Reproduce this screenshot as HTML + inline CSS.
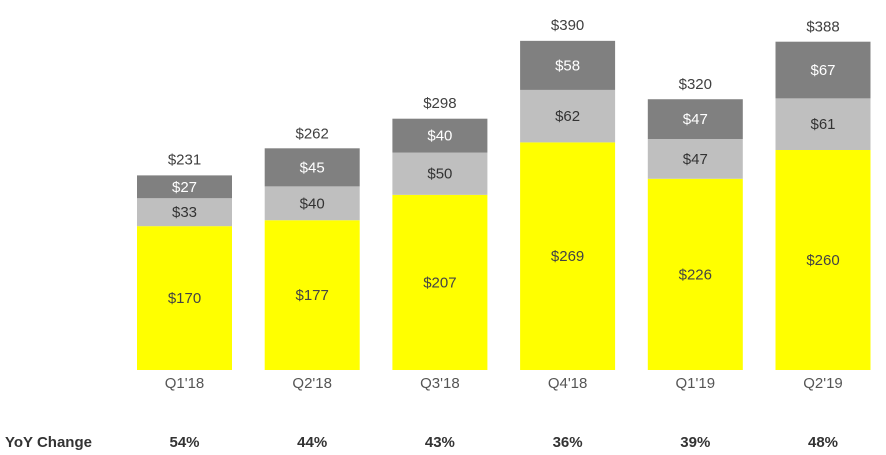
<!DOCTYPE html>
<html><head><meta charset="utf-8"><style>
html,body{margin:0;padding:0;background:#fff;width:886px;height:455px;overflow:hidden;font-family:"Liberation Sans",sans-serif}
</style></head><body>
<svg id="chart" width="886" height="455" xmlns="http://www.w3.org/2000/svg"></svg>
<script>
const categories=["Q1'18","Q2'18","Q3'18","Q4'18","Q1'19","Q2'19"];
const seriesA=[170,177,207,269,226,260];
const seriesB=[33,40,50,62,47,61];
const seriesC=[27,45,40,58,47,67];
const totals=[231,262,298,390,320,388];
const yoy=["54%","44%","43%","36%","39%","48%"];
const svg=document.getElementById('chart');
const NS='http://www.w3.org/2000/svg';
const base=370, scale=330/390, x0=137, step=127.7, bw=95;
const y=v=>base-v*scale;
const xb=i=>x0+i*step;
function mk(t,a){const e=document.createElementNS(NS,t);for(const k in a)e.setAttribute(k,a[k]);svg.appendChild(e);return e;}
function txt(x,yy,s,fill,size,weight){const e=mk('text',{x:x,y:yy,'text-anchor':'middle','font-size':size,fill:fill,'font-weight':weight||'normal'});e.textContent=s;return e;}
const series=[[seriesA,'#ffff00','#444'],[seriesB,'#bfbfbf','#333'],[seriesC,'#808080','#fff']];
const names=['segment-a','segment-b','segment-c'];
categories.forEach((c,i)=>{
  let cum=0;
  series.forEach((s,j)=>{
    const v=s[0][i];
    const r=mk('rect',{x:xb(i),y:y(cum+v),width:bw,height:v*scale,fill:s[1]});
    
    
    const t=txt(xb(i)+bw/2,y(cum+v/2)+5,'$'+v,s[2],15);
    
    
    cum+=v;
  });
  const tt=txt(xb(i)+bw/2,y(totals[i])-10,'$'+totals[i],'#404040',15);
  
  
  const cl=txt(xb(i)+bw/2,388,c,'#555',15);
  
  
  const yl=txt(xb(i)+bw/2,447,yoy[i],'#333',15,'bold');
  
  
});
const h=mk('text',{x:5,y:447,'font-size':15,fill:'#333','font-weight':'bold'});
h.textContent='YoY Change';


</script>
</body></html>
